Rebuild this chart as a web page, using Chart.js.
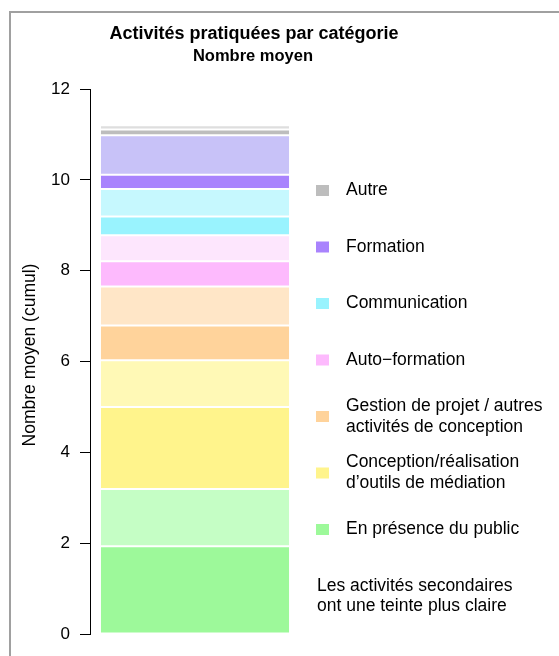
<!DOCTYPE html>
<html>
<head>
<meta charset="utf-8">
<script src="https://cdn.jsdelivr.net/npm/chart.js@4.4.1/dist/chart.umd.min.js"></script>
<style>
html,body{margin:0;padding:0;background:#fff;}
#wrap{width:559px;height:656px;position:relative;}
</style>
</head>
<body>
<div id="wrap"><canvas id="c" width="559" height="656"></canvas></div>
<script>
// Categories, bottom to top of the stack
const categories = [
  "En présence du public",
  "Conception/réalisation\nd’outils de médiation",
  "Gestion de projet / autres\nactivités de conception",
  "Auto\u2212formation",
  "Communication",
  "Formation",
  "Autre"
];
// Mean number of activities: main (darker) and secondary (lighter)
const mainValues      = [1.93, 1.81, 0.76, 0.56, 0.41, 0.31, 0.13];
const secondaryValues = [1.26, 1.03, 0.86, 0.57, 0.61, 0.87, 0.09];
const yTicks = [0, 2, 4, 6, 8, 10, 12];
const noteLines = ["Les activités secondaires", "ont une teinte plus claire"];
const titleText = "Activités pratiquées par catégorie";
const subtitleText = "Nombre moyen";
const yAxisTitle = "Nombre moyen (cumul)";

// Styles
const mainColors      = ["#9df99a", "#fff48c", "#ffd39b", "#fdbafd", "#99f3fe", "#a983fd", "#bdbdbd"];
const secondaryColors = ["#c5fec5", "#fff9b6", "#ffe6c7", "#fde6fd", "#c6f8fe", "#c8c2f8", "#dedede"];
const FONT = "'Liberation Sans', Arial, Helvetica, sans-serif";

const datasets = [];
categories.forEach((cat, i) => {
  datasets.push({label: cat + " (principale)", data: [mainValues[i]], backgroundColor: mainColors[i],
    borderColor: "rgba(255,255,255,0.7)", borderWidth: 1, borderSkipped: false});
  datasets.push({label: cat + " (secondaire)", data: [secondaryValues[i]], backgroundColor: secondaryColors[i],
    borderColor: "rgba(255,255,255,0.7)", borderWidth: 1, borderSkipped: false});
});

const decor = {
  id: "decor",
  beforeDraw(chart) {
    const ctx = chart.ctx;
    ctx.save();
    ctx.fillStyle = "#fff";
    ctx.fillRect(0, 0, chart.width, chart.height);
    ctx.strokeStyle = "#a0a0a0";
    ctx.lineWidth = 2;
    ctx.strokeRect(10, 12, chart.width + 20, chart.height + 20);
    ctx.restore();
  },
  afterDraw(chart) {
    const ctx = chart.ctx;
    ctx.save();
    ctx.fillStyle = "#000";
    ctx.textAlign = "center";
    ctx.textBaseline = "middle";
    ctx.font = "bold 18px " + FONT;
    ctx.fillText(titleText, 254, 34);
    ctx.font = "bold 16.5px " + FONT;
    ctx.fillText(subtitleText, 253, 56);

    // y axis title
    ctx.save();
    ctx.translate(30, 355);
    ctx.rotate(-Math.PI / 2);
    ctx.font = "17.5px " + FONT;
    ctx.fillText(yAxisTitle, 0, 0);
    ctx.restore();

    // legend (top to bottom = reverse of stack)
    ctx.textAlign = "left";
    ctx.font = "17.5px " + FONT;
    const n = categories.length;
    for (let k = 0; k < n; k++) {
      const i = n - 1 - k;
      const yc = 190.5 + k * 56.5;
      ctx.fillStyle = mainColors[i];
      ctx.fillRect(316, yc - 5.5, 13, 11);
      const lines = categories[i].split("\n");
      ctx.fillStyle = "#000";
      lines.forEach((ln, j) => {
        const y = yc + (j - (lines.length - 1) / 2) * 21;
        ctx.fillText(ln, 346, y);
      });
    }
    noteLines.forEach((ln, j) => ctx.fillText(ln, 317, 586 + j * 20));
    ctx.restore();
  }
};

new Chart(document.getElementById("c"), {
  type: "bar",
  data: {labels: [""], datasets},
  options: {
    responsive: false,
    animation: false,
    events: [],
    layout: {padding: {left: 10, right: 259, top: 89, bottom: 22}},
    datasets: {bar: {categoryPercentage: 1.0, barPercentage: 0.905}},
    plugins: {legend: {display: false}, tooltip: {enabled: false}, title: {display: false}},
    scales: {
      x: {stacked: true, display: false},
      y: {
        stacked: true, min: 0, max: 12,
        afterFit(scale) { scale.width = 80; },
        afterBuildTicks(scale) { scale.ticks = yTicks.map(v => ({value: v})); },
        ticks: {color: "#000", padding: 10, font: {family: FONT, size: 17}},
        grid: {drawOnChartArea: false, drawTicks: true, tickLength: 10, color: "#000", lineWidth: 1},
        border: {display: true, color: "#000", width: 1},
        title: {display: false}
      }
    }
  },
  plugins: [decor]
});
</script>
</body>
</html>
